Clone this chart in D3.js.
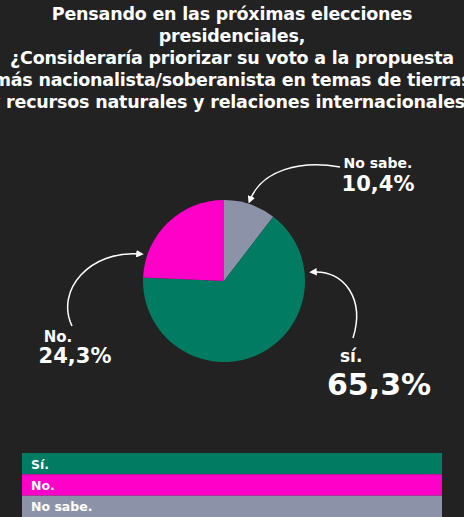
<!DOCTYPE html><html><head><meta charset="utf-8"><script src="https://cdn.jsdelivr.net/npm/d3@7"></script>
<style>body{margin:0;background:#222222}</style></head><body><script>
const categories=["Sí.","No.","No sabe."];
const values=[65.3,24.3,10.4];
const labels=["65,3%","24,3%","10,4%"];
const colors=["#017b61","#ff00c8","#8c93a8"];
const title=["Pensando en las próximas elecciones","presidenciales,","¿Consideraría priorizar su voto a la propuesta","más nacionalista/soberanista en temas de tierras","y recursos naturales y relaciones internacionales?"];
const W=464,H=517;
const svg=d3.select("body").append("svg").attr("width",W).attr("height",H).style("font-family","'DejaVu Sans', sans-serif");
svg.append("rect").attr("width",W).attr("height",H).attr("fill","#222222");
svg.selectAll("text.t").data(title).join("text").attr("x",232).attr("y",(d,i)=>20+i*22).attr("text-anchor","middle").attr("fill","#fff").attr("font-size",17.5).attr("font-weight","bold").attr("letter-spacing",-0.2).text(d=>d);
const order=[2,0,1];
const pie=d3.pie().sort(null).value(i=>values[i]);
const arc=d3.arc().innerRadius(0).outerRadius(81);
const g=svg.append("g").attr("transform","translate(224,281)");
g.selectAll("path").data(pie(order)).join("path").attr("d",arc).attr("fill",d=>colors[d.data]);
const ly=d3.scaleBand().domain(categories).range([453,517]);
const lg=svg.selectAll("g.l").data(categories).join("g");
lg.append("rect").attr("x",22).attr("y",d=>ly(d)).attr("width",420).attr("height",ly.bandwidth()).attr("fill",(d,i)=>colors[i]);
lg.append("text").attr("x",31).attr("y",d=>ly(d)+ly.bandwidth()/2+5).attr("fill","#fff").attr("font-size",12.5).attr("font-weight","bold").text(d=>d);
const lab=[{t:"sí.",x:340,y:362,s:17,a:"start"},{t:labels[0],x:327,y:395,s:30,a:"start"},{t:"No.",x:58,y:342,s:15,a:"middle"},{t:labels[1],x:75,y:363,s:21,a:"middle"},{t:"No sabe.",x:378,y:168,s:14,a:"middle"},{t:labels[2],x:378,y:191,s:21,a:"middle"}];
svg.selectAll("text.lab").data(lab).join("text").attr("x",d=>d.x).attr("y",d=>d.y).attr("text-anchor",d=>d.a).attr("font-size",d=>d.s).attr("font-weight","bold").attr("fill","#fff").text(d=>d.t);
const defs=svg.append("defs");
defs.append("marker").attr("id","ah").attr("viewBox","0 0 10 10").attr("refX",5).attr("refY",5).attr("markerWidth",5).attr("markerHeight",5).attr("orient","auto").append("path").attr("d","M0,0L10,5L0,10z").attr("fill","#fff");
const arrows=["M340,167 C300,160 262,170 250,200","M353,338 C365,300 345,270 313,272","M72,326 C55,290 90,250 140,254"];
svg.selectAll("path.ar").data(arrows).join("path").attr("d",d=>d).attr("fill","none").attr("stroke","#fff").attr("stroke-width",1.5).attr("marker-end","url(#ah)");
</script></body></html>
